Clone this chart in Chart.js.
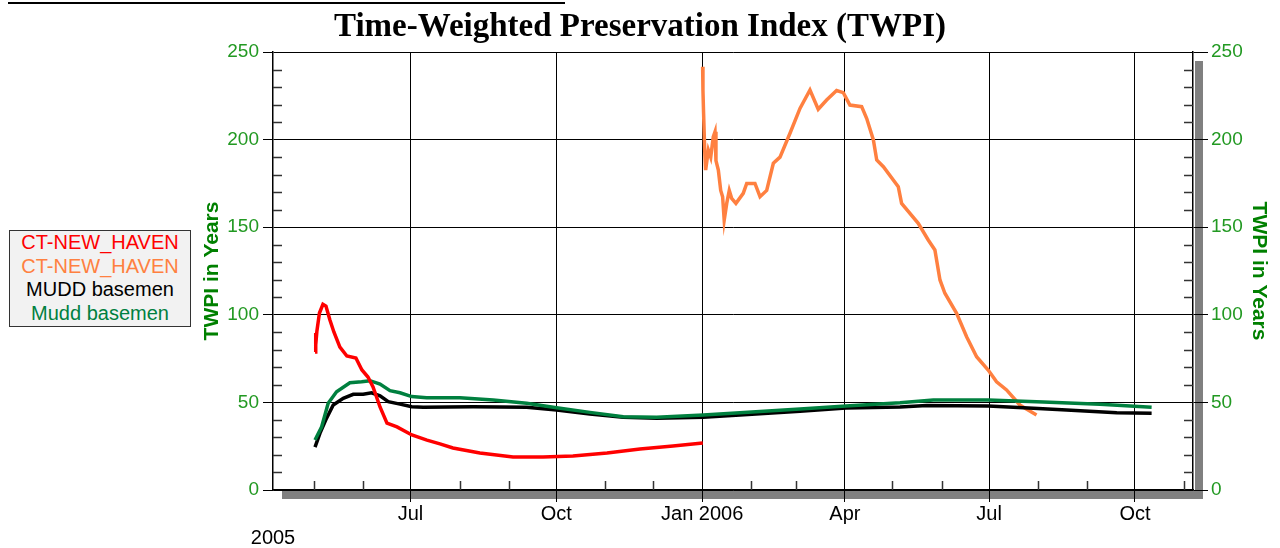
<!DOCTYPE html>
<html>
<head>
<meta charset="utf-8">
<script src="https://cdn.jsdelivr.net/npm/chart.js@4.4.1/dist/chart.umd.min.js"></script>
<style>
html, body { margin: 0; padding: 0; background: #fff; }
#wrap { position: relative; width: 1280px; height: 548px; }
#topline { position: absolute; left: 8px; top: 2px; width: 557px; height: 2px; background: #000; }
#legend { position: absolute; left: 9px; top: 230px; width: 180px; height: 95px; background: #f2f2f2;
  border: 1px solid #333; font: 20px "Liberation Sans", Arial, sans-serif; text-align: center; line-height: 23.5px; }
</style>
</head>
<body>
<div id="wrap">
<canvas id="twpiChart" width="1280" height="548"></canvas>
<div id="topline"></div>
<div id="legend"></div>
</div>
<script>
// x values are days since 1 Jan 2005
var xMin = 94.3, xMax = 674.6;
var monthDays = [120, 151, 181, 212, 243, 273, 304, 334, 365, 396, 424, 455, 485, 516, 546, 577, 608, 638, 669];
var monthLabels = ['', '', 'Jul', '', '', 'Oct', '', '', 'Jan 2006', '', '', 'Apr', '', '', 'Jul', '', '', 'Oct', ''];
var yearLabel = '2005';
var yTicks = [0, 50, 100, 150, 200, 250];

var seriesNames = ['CT-NEW_HAVEN', 'CT-NEW_HAVEN', 'MUDD basemen', 'Mudd basemen'];
var seriesColors = ['#ff0000', '#ff8040', '#000000', '#00803f'];

var redDay = [120.8, 121.1, 121.4, 122, 123.6, 125.8, 127.7, 130.2, 132.7, 136.5, 140.9, 146.6, 150.4, 154.2, 157.4,
  161.8, 166.2, 172.5, 181.9, 191.4, 199.6, 207.8, 224.8, 245.7, 264.6, 283.5, 305, 325.8, 346.6, 365.4];
var redVal = [78.8, 89.6, 82.8, 90.8, 101, 106, 105, 97, 90.2, 81.6, 76.5, 75.3, 68.5, 64.5, 58.8,
  47.4, 38.2, 36, 31.4, 28.5, 26.3, 24, 21.1, 18.8, 18.8, 19.4, 21.1, 23.4, 25.1, 26.8];

var orangeDay = [365.3, 365.5, 365.9, 366.6, 367.2, 368.9, 370.4, 372, 373.1, 373.7, 375.2, 376.7, 377.9, 378.9, 380.5,
  382.1, 383.6, 386.3, 390.9, 393.1, 398.3, 401.5, 405.7, 409.9, 414.1, 420.4, 426.7, 433, 438.2, 443.5,
  449.8, 454, 458.2, 465.6, 468.8, 473, 475.1, 479.3, 488.7, 490.8, 501.3, 507.6, 511.8, 515, 518.1,
  525.5, 531.8, 538.1, 545.4, 550.7, 557, 565.4, 575.9];
var orangeVal = [241.6, 228, 215, 194, 182.6, 194, 190, 201.6, 204.5, 188, 182.6, 171, 167.4, 154, 163.6,
  171, 166.5, 163.6, 169.3, 175, 175, 167.4, 171, 186.5, 190, 203.6, 217.8, 228.3, 217.3, 222.6,
  228, 226.8, 219.7, 218.8, 212, 199.8, 188.4, 184.5, 173.1, 163.6, 152.2, 142.7, 137, 119.9, 112.3,
  100.8, 87.5, 76.1, 68.5, 61.8, 57.1, 48.5, 42.8];

var blackDay = [120.8, 123.9, 128.1, 132.3, 138.6, 144.9, 151.2, 156.5, 161.8, 167, 174.4, 181.8, 189.1, 220.6, 254.3,
  273.2, 294.2, 315.2, 336.3, 365.7, 388.8, 426.7, 455.7, 489.8, 506.6, 545.5, 573.9, 594.9, 626.5, 648.5];
var blackVal = [24.5, 32.3, 41, 48.5, 52.3, 54.6, 54.6, 55.5, 53.7, 50.4, 49, 47.5, 47.2, 47.5, 47.2,
  45.7, 43.4, 41.5, 40.9, 41.5, 42.8, 45, 46.8, 47.4, 48.3, 48, 46.6, 45.7, 44.1, 43.8];

var greenDay = [120.8, 125, 129.1, 134.4, 142.8, 150.2, 155.5, 161.8, 168.1, 174.4, 181.8, 191.2, 212.2, 233.2, 254.3,
  273.2, 294.2, 315.2, 336.3, 365.7, 388.8, 426.7, 455.7, 489.8, 510.8, 545.5, 580.2, 615.9, 648.5];
var greenVal = [28.5, 36.1, 49.5, 56.1, 61.2, 61.8, 62.4, 60.5, 56.7, 55.5, 53.3, 52.7, 52.7, 51.4, 49.5,
  47, 44.3, 41.8, 41.5, 42.8, 44.1, 46.2, 47.9, 49.8, 51.4, 51.4, 50.2, 48.9, 47.2];

function pts(days, vals) {
  return days.map(function (d, i) { return { x: d, y: vals[i] }; });
}

var sans = '"Liberation Sans", Arial, sans-serif';
var tickGreen = '#229922';
var titleGreen = '#008000';

function isMajor(tick) {
  if (!tick) return false;
  var i = monthDays.indexOf(tick.value);
  return i >= 0 && monthLabels[i] !== '';
}

// grey drop shadow under the x axis and beside the right axis
var shadowPlugin = {
  id: 'shadow',
  beforeDraw: function (chart) {
    var a = chart.chartArea, ctx = chart.ctx;
    ctx.save();
    ctx.fillStyle = '#808080';
    ctx.fillRect(a.left + 9, a.bottom + 1, a.right - a.left + 1, 8);
    ctx.fillRect(a.right + 2, a.top + 9, 8, a.bottom - a.top);
    ctx.restore();
  }
};

// small inward ticks: every 10 on both y axes, every month on x
var minorTicks = {
  id: 'minorTicks',
  beforeDatasetsDraw: function (chart) {
    var a = chart.chartArea, ctx = chart.ctx, x = chart.scales.x, y = chart.scales.y;
    ctx.save();
    ctx.strokeStyle = '#333';
    ctx.lineWidth = 1.5;
    ctx.beginPath();
    for (var v = 10; v < 250; v += 10) {
      if (v % 50 === 0) continue;
      var py = Math.round(y.getPixelForValue(v)) + 0.5;
      ctx.moveTo(a.left, py); ctx.lineTo(a.left + 9, py);
      ctx.moveTo(a.right, py); ctx.lineTo(a.right - 9, py);
    }
    monthDays.forEach(function (d, i) {
      if (monthLabels[i]) return;
      var px = Math.round(x.getPixelForValue(d)) + 0.5;
      ctx.moveTo(px, a.bottom); ctx.lineTo(px, a.bottom - 9);
    });
    ctx.stroke();
    ctx.restore();
  }
};

var ctx = document.getElementById('twpiChart').getContext('2d');
var twpiChart = new Chart(ctx, {
  type: 'line',
  data: {
    datasets: [
      { label: seriesNames[0], data: pts(redDay, redVal), borderColor: seriesColors[0], order: 1 },
      { label: seriesNames[1], data: pts(orangeDay, orangeVal), borderColor: seriesColors[1], order: 4 },
      { label: seriesNames[2], data: pts(blackDay, blackVal), borderColor: seriesColors[2], order: 3 },
      { label: seriesNames[3], data: pts(greenDay, greenVal), borderColor: seriesColors[3], order: 2 }
    ]
  },
  options: {
    responsive: false,
    animation: false,
    datasets: { line: { borderWidth: 3.5, pointRadius: 0, tension: 0, fill: false } },
    layout: { padding: 0 },
    plugins: {
      legend: { display: false },
      tooltip: { enabled: false },
      title: {
        display: true,
        text: 'Time-Weighted Preservation Index (TWPI)',
        color: '#000',
        font: { family: '"Liberation Serif", "Times New Roman", serif', size: 33, weight: 'bold' },
        padding: { top: 8, bottom: 4.4 }
      }
    },
    scales: {
      x: {
        type: 'linear',
        min: xMin,
        max: xMax,
        afterBuildTicks: function (s) {
          s.ticks = [{ value: xMin }].concat(monthDays.map(function (v) { return { value: v }; }));
        },
        afterFit: function (s) { s.height = 58; },
        ticks: {
          autoSkip: false, maxRotation: 0, minRotation: 0, padding: 0, color: '#000',
          font: { family: sans, size: 20 },
          callback: function (v, i) { return i === 0 ? ['', yearLabel] : monthLabels[i - 1]; }
        },
        grid: {
          color: function (c) { return isMajor(c.tick) ? '#000' : 'rgba(0,0,0,0)'; },
          tickColor: function (c) { return isMajor(c.tick) ? '#000' : 'rgba(0,0,0,0)'; },
          tickLength: 12,
          lineWidth: 1
        },
        border: { color: '#000', width: 1.5 }
      },
      y: {
        position: 'left',
        min: 0, max: 250,
        afterBuildTicks: function (s) { s.ticks = yTicks.map(function (v) { return { value: v }; }); },
        afterFit: function (s) { s.width = 273; },
        ticks: { color: tickGreen, padding: 4, font: { family: sans, size: 19 } },
        grid: { color: '#000', lineWidth: 1, tickLength: 10 },
        border: { color: '#000', width: 1.5 },
        title: {
          display: true, text: 'TWPI in Years', color: titleGreen,
          font: { family: sans, size: 21, weight: 'bold' }, padding: { top: 199.4, bottom: 0 }
        }
      },
      y2: {
        position: 'right',
        min: 0, max: 250,
        afterBuildTicks: function (s) { s.ticks = yTicks.map(function (v) { return { value: v }; }); },
        afterFit: function (s) { s.width = 87; },
        ticks: { color: tickGreen, padding: 3, font: { family: sans, size: 19 } },
        grid: { drawOnChartArea: false, color: '#000', tickLength: 15 },
        border: { color: '#000', width: 1.5 },
        title: {
          display: true, text: 'TWPI in Years', color: titleGreen,
          font: { family: sans, size: 21, weight: 'bold' }, padding: { top: 8.4, bottom: 0 }
        }
      }
    }
  },
  plugins: [shadowPlugin, minorTicks]
});

// legend box: coloured names only, no swatches
var legendEl = document.getElementById('legend');
twpiChart.data.datasets.forEach(function (ds) {
  var row = document.createElement('div');
  row.textContent = ds.label;
  row.style.color = ds.borderColor;
  legendEl.appendChild(row);
});
</script>
</body>
</html>
